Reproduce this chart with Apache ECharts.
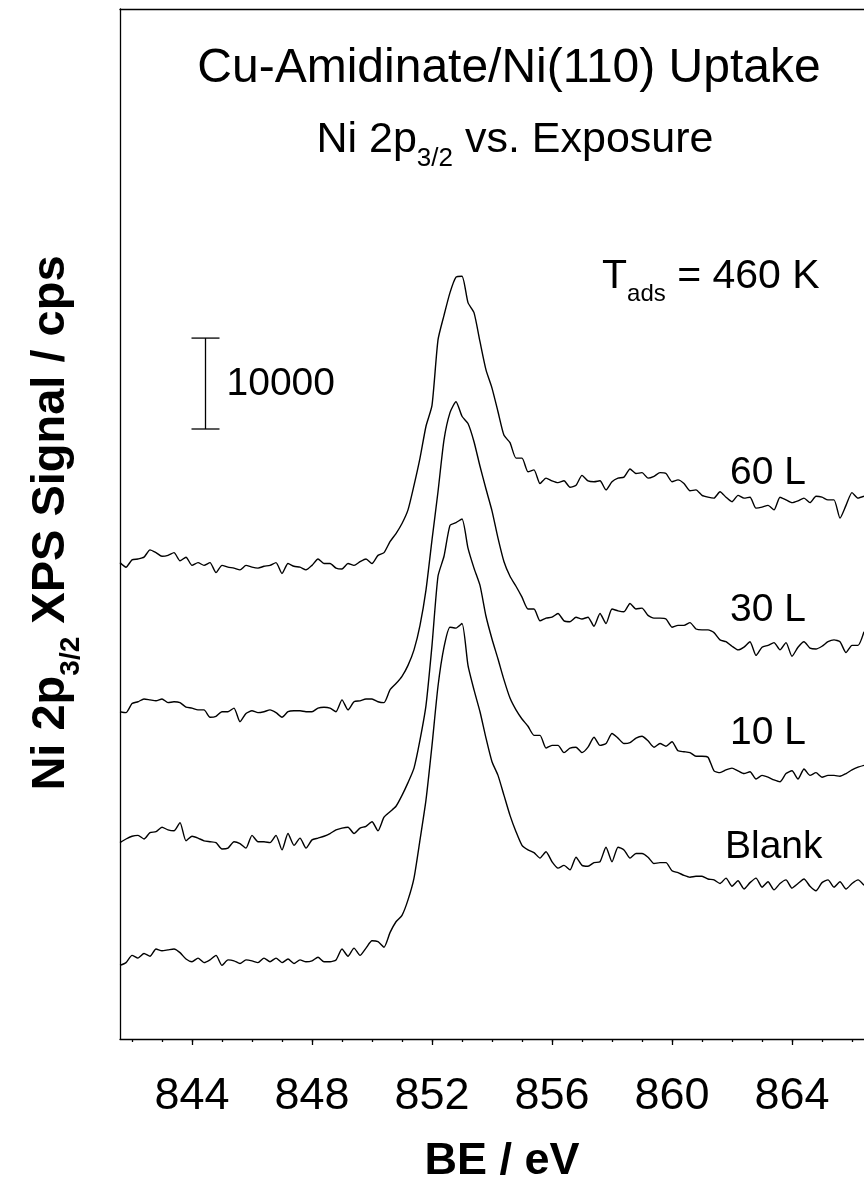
<!DOCTYPE html>
<html><head><meta charset="utf-8">
<script src="https://cdn.jsdelivr.net/npm/echarts@6/dist/echarts.min.js"></script>
<style>html,body{margin:0;padding:0;background:#fff}#c{width:864px;height:1186px}</style>
</head><body><div id="c"></div>
<script>
// ---------------- data ----------------
const bindingEnergy = [
841.6,841.8,842.0,842.2,842.4,842.6,842.8,843.0,843.2,843.4,
843.6,843.8,844.0,844.2,844.4,844.6,844.8,845.0,845.2,845.4,
845.6,845.8,846.0,846.2,846.4,846.6,846.8,847.0,847.2,847.4,
847.6,847.8,848.0,848.2,848.4,848.6,848.8,849.0,849.2,849.4,
849.6,849.8,850.0,850.2,850.4,850.6,850.8,851.0,851.2,851.4,
851.6,851.8,852.0,852.2,852.4,852.6,852.8,853.0,853.2,853.4,
853.6,853.8,854.0,854.2,854.4,854.6,854.8,855.0,855.2,855.4,
855.6,855.8,856.0,856.2,856.4,856.6,856.8,857.0,857.2,857.4,
857.6,857.8,858.0,858.2,858.4,858.6,858.8,859.0,859.2,859.4,
859.6,859.8,860.0,860.2,860.4,860.6,860.8,861.0,861.2,861.4,
861.6,861.8,862.0,862.2,862.4,862.6,862.8,863.0,863.2,863.4,
863.6,863.8,864.0,864.2,864.4,864.6,864.8,865.0,865.2,865.4,
865.6,865.8,866.0,866.2,866.4];

// displayed (offset) signal, kcps
const signal60L = [
52.4,51.9,52.7,52.8,53.0,53.8,53.5,53.1,53.2,53.5,
52.6,53.0,52.1,52.4,52.1,52.4,51.3,52.1,51.9,51.8,
51.6,52.1,51.9,51.8,52.0,52.1,52.4,51.2,52.3,52.0,
51.9,51.6,52.1,52.8,52.3,52.3,51.8,51.7,52.3,52.1,
52.5,52.8,52.3,53.2,53.5,54.7,55.6,56.7,58.2,60.9,
63.9,67.4,69.7,76.9,79.6,82.1,83.8,83.9,81.0,79.9,
76.7,73.6,71.6,69.0,66.4,65.6,63.9,63.9,62.4,62.6,
61.1,61.7,61.4,61.2,61.4,60.7,60.9,62.0,61.4,61.3,
61.4,60.4,61.3,61.7,61.8,62.7,62.2,62.3,61.7,61.9,
62.3,62.2,61.3,61.5,61.1,60.3,60.4,59.8,59.6,59.5,
60.2,59.6,59.1,59.8,59.5,59.6,58.4,58.5,58.7,58.2,
59.6,59.3,59.0,59.2,59.5,59.0,59.7,59.6,59.3,59.3,
57.3,58.7,60.1,59.5,59.7];

const signal30L = [
36.0,35.9,36.9,37.1,37.4,37.3,37.2,37.4,37.0,37.1,
37.0,36.5,36.4,36.2,36.2,35.4,35.5,36.0,36.0,36.4,
34.9,35.8,36.1,35.9,36.0,36.2,35.9,35.4,36.0,36.1,
36.1,36.0,36.0,36.4,36.5,36.4,36.0,37.3,36.2,37.1,
37.2,37.4,37.4,37.1,37.0,38.4,39.1,39.9,41.1,42.8,
45.5,49.4,54.9,60.2,65.9,68.9,70.1,68.5,67.7,65.7,
63.0,60.5,58.1,55.1,52.5,50.9,49.8,48.6,47.3,47.3,
46.0,46.3,46.4,46.8,46.0,45.9,46.4,46.2,46.4,45.4,
46.8,45.7,47.3,47.1,47.0,47.9,47.3,47.4,46.6,46.3,
46.3,46.2,45.3,45.5,45.5,45.8,45.1,45.0,45.0,44.7,
43.9,43.7,43.2,42.8,43.1,43.7,42.2,43.1,43.3,43.6,
42.8,43.6,42.1,43.1,43.7,43.0,42.9,43.2,43.7,43.9,
43.7,42.5,43.3,43.3,44.8];

const signal10L = [
21.6,22.0,22.3,22.4,22.0,22.7,22.8,23.3,23.0,22.9,
23.8,21.8,22.3,22.1,21.8,21.7,21.6,20.9,21.0,21.7,
21.5,21.0,22.4,21.7,21.7,21.6,22.4,20.8,22.6,21.3,
22.1,21.0,21.9,22.1,22.3,22.6,23.0,23.2,23.3,22.6,
23.2,23.4,23.9,22.9,24.4,25.0,25.6,26.8,28.2,29.8,
32.9,36.7,43.3,50.9,53.1,56.5,56.8,57.2,54.0,51.8,
49.9,46.5,44.0,41.8,39.5,37.5,36.2,35.2,34.4,33.4,
33.4,32.0,32.3,32.3,31.5,32.0,32.1,31.5,32.1,33.2,
32.3,32.5,33.6,33.1,32.5,32.6,33.1,33.3,32.8,32.1,
32.5,32.2,32.7,31.7,31.6,31.5,31.1,31.1,31.0,29.5,
29.3,29.6,29.8,29.5,29.2,29.4,28.6,29.0,28.8,28.5,
28.3,29.2,29.5,28.6,29.7,29.0,29.3,28.8,29.0,29.0,
28.9,29.2,29.6,29.9,30.1];

const signalBlank = [
8.1,8.4,9.2,8.9,9.4,9.1,9.9,9.7,9.8,9.9,
9.5,8.8,8.5,8.9,8.4,8.7,9.2,8.1,8.7,8.6,
8.3,8.7,8.6,8.4,8.9,8.5,8.9,8.4,8.8,8.3,
8.7,8.5,8.6,9.0,8.5,8.5,8.7,9.9,9.1,10.0,
9.2,10.0,10.8,10.7,10.1,11.7,12.9,13.6,15.3,17.7,
21.9,26.3,32.3,38.8,43.1,45.3,45.2,45.7,41.1,38.4,
36.0,33.1,30.5,29.0,26.8,24.6,22.8,21.3,20.8,20.5,
19.9,20.6,19.5,18.8,19.1,18.6,20.0,19.1,19.0,19.4,
19.5,21.1,19.5,21.1,20.8,19.9,20.4,20.4,20.0,19.3,
19.4,19.4,18.5,18.3,18.0,17.8,17.9,17.9,17.6,17.5,
17.1,17.7,16.8,17.4,16.5,17.2,17.7,16.7,17.3,16.4,
17.1,17.5,16.6,17.1,17.6,16.8,16.3,17.2,17.5,16.7,
17.3,16.5,17.1,17.5,16.9];

const seriesNames = ['60 L', '30 L', '10 L', 'Blank'];
const majorTickValues = [844, 848, 852, 856, 860, 864];
const minorTickValues = [842,843,844,845,846,847,848,849,850,851,852,853,854,855,856,857,858,859,860,861,862,863,864,865,866];
const scaleBarBE = 844.45;      // eV
const scaleBarBase = 67.1;      // kcps
const scaleBarSpan = 10;        // kcps = 10000 cps
const scaleBarText = '10000';

// ---------------- rendering ----------------
const FONT = '"Liberation Sans", Arial, Helvetica, sans-serif';
const mctx = document.createElement('canvas').getContext('2d');
function tw(t, size, weight) { mctx.font = (weight || 'normal') + ' ' + size + 'px ' + FONT; return mctx.measureText(t).width; }
function textEl(x, y, t, size, weight, align) {
  return { type: 'text', x: x, y: y, silent: true,
    style: { text: t, fontSize: size, fontFamily: FONT, fontWeight: weight || 'normal', fill: '#000',
      textAlign: align || 'left', align: align || 'left', textVerticalAlign: 'middle', verticalAlign: 'middle' } };
}
// parts: {t,size,dy}; y is baseline
function richText(parts, o) {
  const widths = parts.map(p => tw(p.t, p.size, o.weight));
  const total = widths.reduce((a, b) => a + b, 0);
  let cx = o.align === 'center' ? -total / 2 : 0;
  const children = parts.map((p, i) => {
    const el = textEl(cx, (p.dy || 0) - 0.3465 * p.size, p.t, p.size, o.weight, 'left');
    cx += widths[i];
    return el;
  });
  return { type: 'group', x: o.x, y: o.y, rotation: o.rotation || 0, children: children };
}
function base(y, size) { return y - 0.3465 * size; }

const signals = [signal60L, signal30L, signal10L, signalBlank];
const lineSeries = signals.map((s, k) => ({
  name: seriesNames[k], type: 'line', xAxisIndex: 0, yAxisIndex: 0,
  data: bindingEnergy.map((e, i) => [e, s[i]]),
  showSymbol: false, smooth: 0.2, animation: false,
  lineStyle: { color: '#000', width: 1.4 }, itemStyle: { color: '#000' }
}));

const scaleSeries = {
  type: 'custom', xAxisIndex: 0, yAxisIndex: 0, animation: false, silent: true,
  data: [[scaleBarBE, scaleBarBase, scaleBarSpan]],
  renderItem: function (params, api) {
    const p0 = api.coord([api.value(0), api.value(1)]);
    const p1 = api.coord([api.value(0), api.value(1) + api.value(2)]);
    const hw = 14, st = { stroke: '#000', lineWidth: 1.3 };
    return { type: 'group', children: [
      { type: 'line', shape: { x1: p0[0], y1: p0[1], x2: p1[0], y2: p1[1] }, style: st },
      { type: 'line', shape: { x1: p0[0] - hw, y1: p0[1], x2: p0[0] + hw, y2: p0[1] }, style: st },
      { type: 'line', shape: { x1: p1[0] - hw, y1: p1[1], x2: p1[0] + hw, y2: p1[1] }, style: st },
      textEl(p0[0] + 21, (p0[1] + p1[1]) / 2 + 1, scaleBarText, 39, 'normal', 'left')
    ] };
  }
};

const chart = echarts.init(document.getElementById('c'), null, { renderer: 'canvas' });
const axisLineStyle = { color: '#000', width: 1.3 };
chart.setOption({
  animation: false,
  backgroundColor: '#fff',
  grid: { left: 120, right: 0, top: 9, bottom: 147, containLabel: false },
  xAxis: [
    { type: 'value', position: 'bottom', min: 841.6, max: 866.4,
      axisLine: { show: true, onZero: false, lineStyle: axisLineStyle },
      axisTick: { show: true, inside: false, length: 6, customValues: majorTickValues, lineStyle: axisLineStyle },
      axisLabel: { show: true, customValues: majorTickValues, fontSize: 45, fontFamily: FONT, color: '#000', margin: 35 },
      splitLine: { show: false } },
    { type: 'value', position: 'bottom', min: 841.6, max: 866.4,
      axisLine: { show: false },
      axisTick: { show: true, inside: false, length: 3, customValues: minorTickValues, lineStyle: axisLineStyle },
      axisLabel: { show: false }, splitLine: { show: false } },
    { type: 'value', position: 'top', min: 841.6, max: 866.4,
      axisLine: { show: true, onZero: false, lineStyle: axisLineStyle },
      axisTick: { show: false }, axisLabel: { show: false }, splitLine: { show: false } }
  ],
  yAxis: [{ type: 'value', min: 0, max: 113.3,
    axisLine: { show: true, onZero: false, lineStyle: axisLineStyle },
    axisTick: { show: false }, axisLabel: { show: false }, splitLine: { show: false } }],
  series: lineSeries.concat([scaleSeries]),
  graphic: [
    textEl(509, base(85, 48), 'Cu-Amidinate/Ni(110) Uptake', 48, 'normal', 'center'),
    richText([{ t: 'Ni 2p', size: 43 }, { t: '3/2', size: 26, dy: 13 }, { t: ' vs. Exposure', size: 43 }],
      { x: 515, y: 155, align: 'center' }),
    richText([{ t: 'T', size: 41 }, { t: 'ads', size: 24, dy: 12 }, { t: ' = 460 K', size: 41 }],
      { x: 602, y: 291, align: 'left' }),
    textEl(730, base(487, 39), seriesNames[0], 39, 'normal', 'left'),
    textEl(730, base(624, 39), seriesNames[1], 39, 'normal', 'left'),
    textEl(730, base(747, 39), seriesNames[2], 39, 'normal', 'left'),
    textEl(725, base(861, 39), seriesNames[3], 39, 'normal', 'left'),
    textEl(502, base(1177, 45), 'BE / eV', 45, 'bold', 'center'),
    richText([{ t: 'Ni 2p', size: 47 }, { t: '3/2', size: 28, dy: 14 }, { t: ' XPS Signal / cps', size: 47 }],
      { x: 67, y: 523, align: 'center', weight: 'bold', rotation: Math.PI / 2 })
  ]
});
</script>
</body></html>
